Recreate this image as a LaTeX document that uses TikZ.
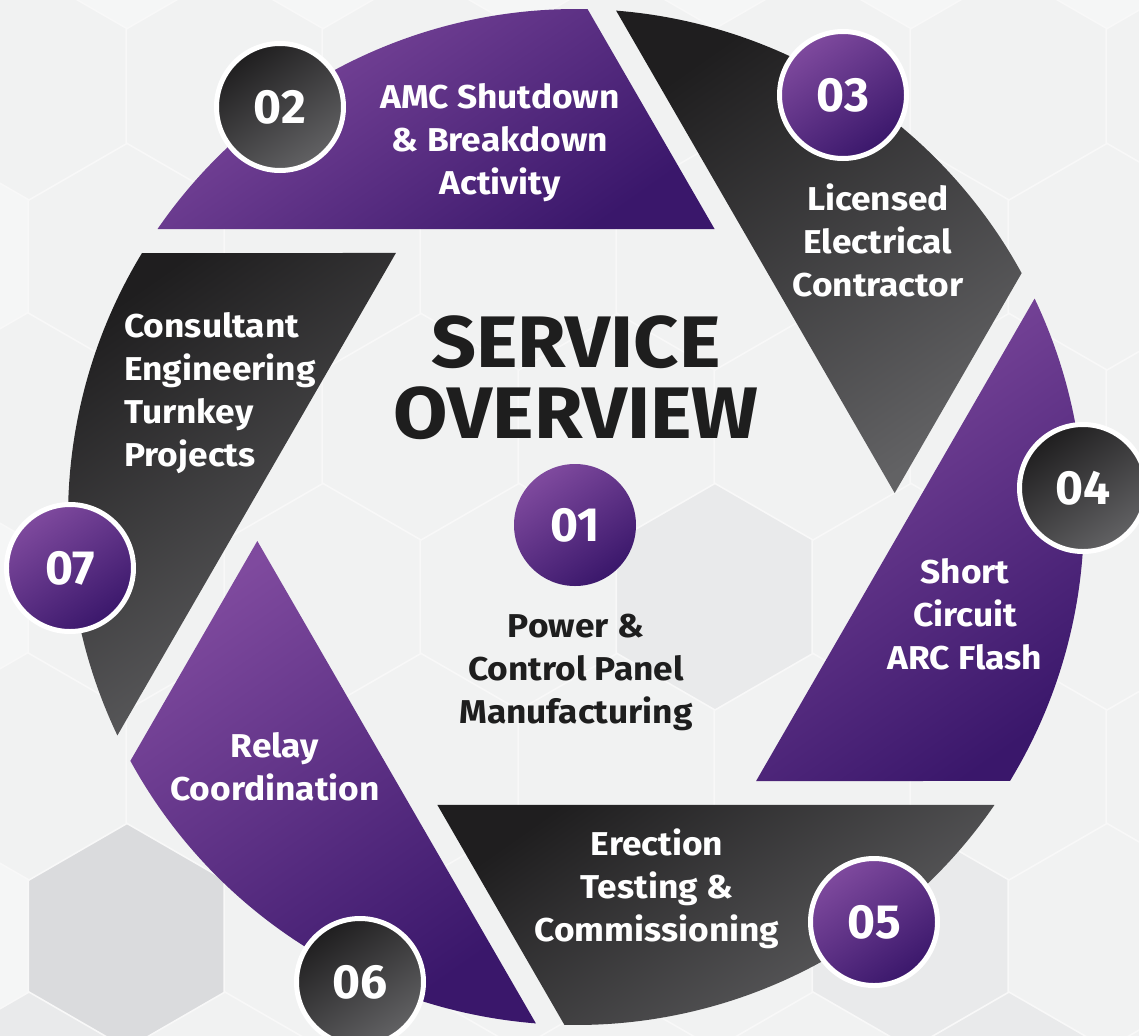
\documentclass[tikz,border=0pt]{standalone}
\usepackage{fontspec}
\setmainfont{Fira Sans}
\newfontfamily\lblfont{Fira Sans}[FakeStretch=1.07]
\newfontfamily\ttlfont{Fira Sans}[FakeStretch=1.08]
\definecolor{bgc}{HTML}{F5F6F6}
\definecolor{hexA}{HTML}{F1F2F2}
\definecolor{hexB}{HTML}{E9EAEB}
\definecolor{hexC}{HTML}{DADBDD}
\definecolor{hexE}{HTML}{F8F8F8}
\definecolor{purpL}{HTML}{7F4A9E}
\definecolor{purpD}{HTML}{3A176B}
\definecolor{darkA}{HTML}{1F1E1F}
\definecolor{darkB}{HTML}{626264}
\definecolor{ink}{HTML}{1E1E1E}
\tikzset{
  purpfill/.style={top color=purpL, bottom color=purpD, shading angle=35},
  darkfill/.style={top color=darkA, bottom color=darkB, shading angle=35},
  numbase/.style={circle, inner sep=0pt, minimum size=63.5pt, text=white,
    font=\bfseries\fontsize{24}{24}\selectfont},
  numpurp/.style={numbase, purpfill, draw=white, line width=2.5pt},
  numdark/.style={numbase, darkfill, draw=white, line width=2.5pt},
  bladetext/.style={text=white, align=center, inner sep=0pt,
    font=\lblfont\bfseries\fontsize{16.5}{21.5}\selectfont},
  centertext/.style={text=ink, align=center, inner sep=0pt,
    font=\lblfont\bfseries\fontsize{16.5}{21.5}\selectfont},
  hexcell/.style={fill=#1, draw=hexE, line width=0.8pt}
}
\begin{document}
\begin{tikzpicture}[x=0.5pt,y=0.5pt]
\useasboundingbox (-576,-518) rectangle (563,517);
\fill[bgc] (-576,-518) rectangle (563,517);
% background honeycomb
\begin{scope}
\clip (-576,-518) rectangle (563,517);
\foreach \cx/\cy/\col in {
  -449/-419/hexC, -253/-419/hexA, -57/-419/hexA, 139/-419/hexA, 335/-419/hexB, 531/-419/hexA,
  -547/-249/hexA, -351/-249/hexA, -155/-249/hexA, 41/-249/hexA, 237/-249/hexA, 433/-249/hexA, 629/-249/hexA,
  -449/-79/hexA, -253/-79/hexA, -57/-79/hexA, 139/-79/hexB, 335/-79/hexA, 531/-79/hexA,
  -547/91/hexA, -351/91/hexA, -155/91/hexA, 41/91/hexA, 237/91/hexA, 433/91/hexA, 629/91/hexA,
  -449/261/hexA, -253/261/hexA, -57/261/hexA, 139/261/hexA, 335/261/hexA, 531/261/hexA,
  -547/431/hexA, -351/431/hexA, -155/431/hexA, 41/431/hexA, 237/431/hexA, 433/431/hexA, 629/431/hexA,
  -547/-589/hexB, -351/-589/hexA, -155/-589/hexA, 41/-589/hexA, 237/-589/hexA, 433/-589/hexB, 629/-589/hexA}
  \path[hexcell=\col] (\cx,\cy) +(30:114) -- +(90:114) -- +(150:114) -- +(210:114) -- +(270:114) -- +(330:114) -- cycle;
\end{scope}
% aperture blades
\path[purpfill] (64.30:319.6) -- (145.47:508) arc[start angle=145.47, end angle=88.69, radius=508] -- cycle;
\path[darkfill] (4.30:319.6) -- (85.47:508) arc[start angle=85.47, end angle=28.69, radius=508] -- cycle;
\path[purpfill] (-55.70:319.6) -- (25.47:508) arc[start angle=25.47, end angle=-31.31, radius=508] -- cycle;
\path[darkfill] (-115.70:319.6) -- (-34.53:508) arc[start angle=-34.53, end angle=-91.31, radius=508] -- cycle;
\path[purpfill] (-175.70:319.6) -- (-94.53:508) arc[start angle=-94.53, end angle=-151.31, radius=508] -- cycle;
\path[darkfill] (124.30:319.6) -- (205.47:508) arc[start angle=205.47, end angle=148.69, radius=508] -- cycle;
% blade texts
\node[bladetext] (t02) at (-76,374) {AMC Shutdown\\\& Breakdown\\Activity};
\node[bladetext] (t03) at (302,277) {Licensed\\Electrical\\Contractor};
\node[bladetext] (t04) at (389,-97) {Short\\Circuit\\ARC Flash};
\node[bladetext] (t05) at (81,-372) {Erection\\Testing \&\\Commissioning};
\node[bladetext] (t06) at (-301,-249.5) {Relay\\Coordination};
\node[bladetext, align=left, anchor=west] (t07) at (-452,124) {Consultant\\Engineering\\Turnkey\\Projects};
% title and centre
\node[text=ink, align=center, inner sep=0pt, font=\ttlfont\bfseries\fontsize{36.5}{35.5}\selectfont] (title) at (0,139) {SERVICE\\OVERVIEW};
\node[numbase, purpfill, minimum size=61pt] (n01) at (-1,-8) {01};
\node[centertext] (t01) at (0,-155) {Power \&\\Control Panel\\Manufacturing};
% numbered circles
\node[numdark] (n02) at (-296,410) {02};
\node[numpurp] (n03) at (267,422) {03};
\node[numdark] (n04) at (507,29) {04};
\node[numpurp] (n05) at (298,-405) {05};
\node[numdark] (n06) at (-216,-465) {06};
\node[numpurp] (n07) at (-506,-51) {07};
\end{tikzpicture}
\end{document}
